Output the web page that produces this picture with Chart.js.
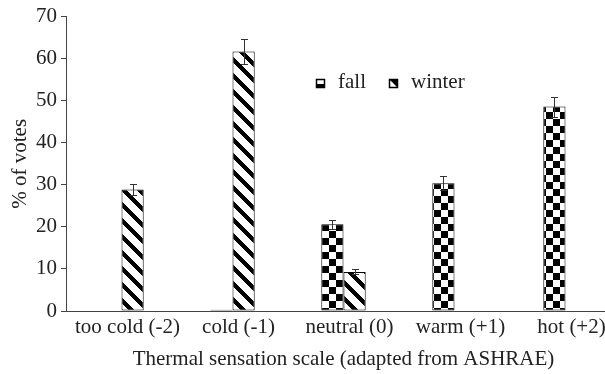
<!DOCTYPE html>
<html>

<head>
    <meta charset="utf-8" />
    <title>Thermal sensation votes</title>
    <script src="https://cdn.jsdelivr.net/npm/chart.js@4.4.1/dist/chart.umd.min.js"></script>
    <style>
        html, body { margin: 0; padding: 0; background: #fff; overflow: hidden; }
        #grafico { display: block; }
    </style>
</head>

<body>
    <canvas id="grafico" width="621" height="374"></canvas>

    <script>
        // dados
        const categorias = ['too cold (-2)', 'cold (-1)', 'neutral (0)', 'warm (+1)', 'hot (+2)'];
        const fall = [null, 0.3, 20.6, 30.4, 48.6];
        const winter = [28.9, 61.7, 9.3, null, null];
        const erroFall = [null, null, 1.0, 1.6, 2.4];
        const erroWinter = [1.4, 3.0, 0.6, null, null];
        const yTicks = [0, 10, 20, 30, 40, 50, 60, 70];

        const FONTE = '"Liberation Serif", "DejaVu Serif", serif';
        const TAM = 21;
        const canvas = document.getElementById('grafico');
        const ctx = canvas.getContext('2d');

        // padrão xadrez (fall)
        function xadrez(lado) {
            const t = document.createElement('canvas');
            t.width = t.height = lado * 2;
            const c = t.getContext('2d');
            c.fillStyle = '#fff';
            c.fillRect(0, 0, lado * 2, lado * 2);
            c.fillStyle = '#000';
            c.fillRect(0, 0, lado, lado);
            c.fillRect(lado, lado, lado, lado);
            return ctx.createPattern(t, 'repeat');
        }

        // padrão listrado diagonal (winter)
        function listras(periodo, grossura) {
            const t = document.createElement('canvas');
            t.width = t.height = periodo;
            const c = t.getContext('2d');
            const img = c.createImageData(periodo, periodo);
            for (let y = 0; y < periodo; y++) {
                for (let x = 0; x < periodo; x++) {
                    const d = ((y - x) % periodo + periodo) % periodo;
                    const v = d < grossura ? 0 : 255;
                    const i = (y * periodo + x) * 4;
                    img.data[i] = img.data[i + 1] = img.data[i + 2] = v;
                    img.data[i + 3] = 255;
                }
            }
            c.putImageData(img, 0, 0);
            return ctx.createPattern(t, 'repeat');
        }

        const padraoFall = xadrez(7);
        const padraoWinter = listras(16, 6);

        const barrasErro = {
            id: 'barrasErro',
            afterDatasetsDraw(chart) {
                const erros = [erroFall, erroWinter];
                const y = chart.scales.y;
                const c = chart.ctx;
                c.save();
                c.strokeStyle = '#333';
                c.lineWidth = 1;
                chart.data.datasets.forEach((ds, d) => {
                    const meta = chart.getDatasetMeta(d);
                    meta.data.forEach((bar, i) => {
                        const v = ds.data[i];
                        const e = erros[d][i];
                        if (v == null || e == null) return;
                        const x = Math.round(bar.x) + 0.5;
                        const yt = Math.round(y.getPixelForValue(v + e)) + 0.5;
                        const yb = Math.round(y.getPixelForValue(v - e)) + 0.5;
                        c.beginPath();
                        c.moveTo(x, yt); c.lineTo(x, yb);
                        c.moveTo(x - 3.5, yt); c.lineTo(x + 3.5, yt);
                        c.moveTo(x - 3.5, yb); c.lineTo(x + 3.5, yb);
                        c.stroke();
                    });
                });
                c.restore();
            }
        };

        const legenda = {
            id: 'legenda',
            afterDraw(chart) {
                const c = chart.ctx;
                const ds = chart.data.datasets;
                c.save();
                c.font = TAM + 'px ' + FONTE;
                c.textBaseline = 'alphabetic';
                c.strokeStyle = '#000';
                c.lineWidth = 1.5;
                // fall
                c.fillStyle = '#fff';
                c.fillRect(316, 79, 9, 9);
                c.fillStyle = '#000';
                c.fillRect(316, 84, 9, 4);
                c.strokeRect(316.5, 79.5, 8, 8);
                c.fillStyle = '#222';
                c.fillText(ds[0].label, 338, 88);
                // winter
                c.beginPath();
                c.moveTo(389, 79); c.lineTo(398, 79); c.lineTo(398, 88); c.closePath();
                c.fillStyle = '#000';
                c.fill();
                c.strokeRect(389.5, 79.5, 8, 8);
                c.fillStyle = '#222';
                c.fillText(ds[1].label, 411, 88);
                c.restore();
            }
        };

        const grafico = new Chart(canvas, {
            type: 'bar',
            data: {
                labels: categorias,
                datasets: [
                    {
                        label: 'fall',
                        data: fall,
                        backgroundColor: padraoFall,
                        borderColor: '#000',
                        borderWidth: 1,
                        borderSkipped: false
                    },
                    {
                        label: 'winter',
                        data: winter,
                        backgroundColor: padraoWinter,
                        borderColor: '#000',
                        borderWidth: 1,
                        borderSkipped: false
                    }
                ]
            },
            options: {
                responsive: false,
                animation: false,
                layout: { padding: { top: 16, right: 0, bottom: 0, left: 0 } },
                datasets: { bar: { categoryPercentage: 0.4, barPercentage: 1.0 } },
                plugins: {
                    legend: { display: false },
                    tooltip: { enabled: false }
                },
                scales: {
                    x: {
                        grid: { display: false, drawTicks: false },
                        border: { display: true, color: '#444', width: 1 },
                        ticks: { color: '#222', font: { family: FONTE, size: TAM }, padding: 4, labelOffset: 6, maxRotation: 0, autoSkip: false },
                        title: {
                            display: true,
                            text: 'Thermal sensation scale (adapted from ASHRAE)',
                            color: '#222',
                            font: { family: FONTE, size: TAM },
                            padding: { top: 0, bottom: 2 }
                        },
                        afterFit(s) { s.height = 63; }
                    },
                    y: {
                        min: 0,
                        max: 70,
                        afterBuildTicks(s) { s.ticks = yTicks.map(v => ({ value: v })); },
                        grid: { drawOnChartArea: false, tickLength: 5, color: '#444' },
                        border: { display: true, color: '#444', width: 1 },
                        ticks: { color: '#222', font: { family: FONTE, size: TAM }, padding: 4 },
                        title: {
                            display: true,
                            text: '% of votes',
                            color: '#222',
                            font: { family: FONTE, size: TAM },
                            padding: { top: 8, bottom: 0 }
                        },
                        afterFit(s) { s.width = 66; }
                    }
                }
            },
            plugins: [barrasErro, legenda]
        });
    </script>

</body>

</html>
